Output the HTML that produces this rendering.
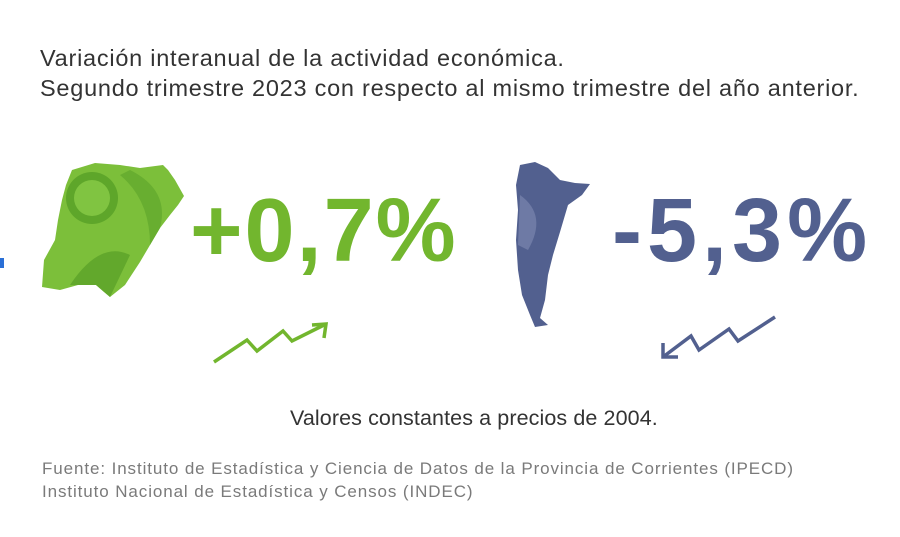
<!DOCTYPE html>
<html><head><meta charset="utf-8"><style>
body{margin:0;width:900px;height:537px;background:#fff;position:relative;overflow:hidden;font-family:"Liberation Sans",sans-serif}
.t{position:absolute;left:40px;color:#333;font-size:23.5px;letter-spacing:0.75px;white-space:nowrap}
.big{position:absolute;font-weight:bold;font-size:90px;white-space:nowrap;line-height:1}
.src{position:absolute;left:42px;color:#7a7a7a;font-size:17px;letter-spacing:0.9px;white-space:nowrap}
</style></head><body>
<div class="t" style="top:45px">Variación interanual de la actividad económica.</div>
<div class="t" style="top:75px">Segundo trimestre 2023 con respecto al mismo trimestre del año anterior.</div>
<div style="position:absolute;left:0;top:258px;width:4px;height:10px;background:#2a6fd6"></div>
<svg width="900" height="537" style="position:absolute;left:0;top:0">
<path d="M72,170 L95,163 L120,165 L140,168 L163,165 L168,170 L175,180 L184,196 L178,205 L170,215 L160,228 L150,245 L140,262 L125,285 L110,297 L104,292 L96,285 L78,285 L60,290 L42,287 L44,260 L55,240 L58,220 L62,200 L66,185 Z" fill="#7cbf3a"/>
<circle cx="92" cy="198" r="26" fill="#5ea62a"/><circle cx="92" cy="198" r="18" fill="#80c441"/>
<path d="M70,285 Q100,240 130,255 L110,297 L96,285 Z" fill="#62a82c"/>
<path d="M130,170 Q170,190 160,228 L150,245 Q150,200 120,175 Z" fill="#68ae30"/>
<path d="M520,165 L535,162 L548,168 L560,180 L575,183 L590,184 L582,195 L568,205 L560,232 L553,255 L548,275 L545,300 L540,318 L548,325 L535,327 L530,315 L522,295 L518,270 L516,240 L518,210 L516,185 Z" fill="#52608f"/>
<path d="M520,195 Q548,215 528,250 L518,245 Z" fill="#6e7aa5"/>
<polyline points="214,362 247,340 257,351 283,331 292,341 324,325" fill="none" stroke="#72b62e" stroke-width="3.5"/>
<polyline points="312,325 326,324 324,338" fill="none" stroke="#72b62e" stroke-width="3.5"/>
<polyline points="663,357 691,336 699,350 729,329 738,341 775,317" fill="none" stroke="#52608f" stroke-width="3.5"/>
<polyline points="663,343 663,357 678,357" fill="none" stroke="#52608f" stroke-width="3.5"/>
</svg>
<div class="big" style="left:190px;top:186px;color:#72b62e;letter-spacing:2px">+0,7%</div>
<div class="big" style="left:612px;top:186px;color:#52608f;letter-spacing:5px">-5,3%</div>
<div class="t" style="left:290px;top:406px;font-size:21.5px;letter-spacing:0.1px">Valores constantes a precios de 2004.</div>
<div class="src" style="top:459px">Fuente: Instituto de Estadística y Ciencia de Datos de la Provincia de Corrientes (IPECD)</div>
<div class="src" style="top:482px">Instituto Nacional de Estadística y Censos (INDEC)</div>
</body></html>
